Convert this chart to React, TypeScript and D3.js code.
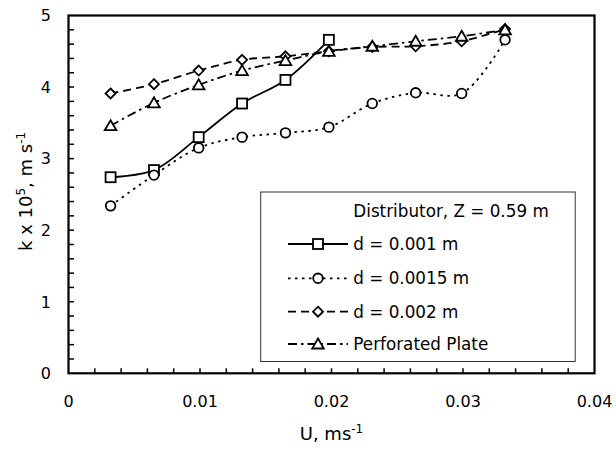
import React from "react";
import * as d3 from "d3";

const U = [0.0032, 0.0065, 0.0099, 0.0132, 0.0165, 0.0198, 0.0231, 0.0264, 0.0299, 0.0332];
const d001 = [2.74, 2.84, 3.30, 3.77, 4.10, 4.66];
const d0015 = [2.34, 2.77, 3.15, 3.30, 3.36, 3.44, 3.77, 3.92, 3.91, 4.66];
const d002 = [3.91, 4.04, 4.23, 4.38, 4.43, 4.50, 4.56, 4.57, 4.64, 4.81];
const perforated = [3.46, 3.78, 4.03, 4.23, 4.37, 4.50, 4.57, 4.64, 4.71, 4.80];

const seriesNames = ["d = 0.001 m", "d = 0.0015 m", "d = 0.002 m", "Perforated Plate"];
const legendTitle = "Distributor, Z = 0.59 m";
const xTicks = [0, 0.01, 0.02, 0.03, 0.04];
const xTickLabels = ["0", "0.01", "0.02", "0.03", "0.04"];
const yTicks = [0, 1, 2, 3, 4, 5];

const W = 616, H = 452;
const L = 68.5, R = 594.5, T = 15.5, B = 373.3;
const FONT = "'DejaVu Sans', sans-serif";

type Mk = "square" | "circle" | "diamond" | "triangle";

function Marker({ x, y, kind }: { x: number; y: number; kind: Mk }) {
  const sw = 1.8;
  if (kind === "square") return <rect x={x - 5} y={y - 5} width={10} height={10} fill="white" stroke="black" strokeWidth={sw} />;
  if (kind === "circle") return <circle cx={x} cy={y} r={4.8} fill="white" stroke="black" strokeWidth={sw} />;
  if (kind === "diamond") return <path d={`M${x},${y - 5}L${x + 5},${y}L${x},${y + 5}L${x - 5},${y}Z`} fill="white" stroke="black" strokeWidth={sw} />;
  return <path d={`M${x},${y - 5.5}L${x + 5.8},${y + 4.5}L${x - 5.8},${y + 4.5}Z`} fill="white" stroke="black" strokeWidth={sw} />;
}

export default function App() {
  const x = d3.scaleLinear().domain([0, 0.04]).range([L, R]);
  const y = d3.scaleLinear().domain([0, 5]).range([B, T]);
  const line = d3
    .line<[number, number]>()
    .x((d) => x(d[0]))
    .y((d) => y(d[1]))
    .curve(d3.curveCatmullRom.alpha(0.5));

  const series: { vals: number[]; kind: Mk; dash: string }[] = [
    { vals: d001, kind: "square", dash: "" },
    { vals: d0015, kind: "circle", dash: "2.5 4.5" },
    { vals: d002, kind: "diamond", dash: "8 5" },
    { vals: perforated, kind: "triangle", dash: "9 4 2.5 4" },
  ];

  const xMinor = d3.range(0.002, 0.0399, 0.002);
  const yMinor = d3.range(0.2, 4.99, 0.2);

  const legRows = [244, 278.3, 311.7, 344];

  return (
    <svg width={W} height={H} style={{ position: "absolute", left: 0, top: 0, background: "white" }} fontFamily={FONT}>
      <rect x={0} y={0} width={W} height={H} fill="white" />
      {/* minor ticks */}
      {xMinor.map((t, i) => (
        <line key={"xt" + i} x1={x(t)} x2={x(t)} y1={B} y2={B - 5} stroke="black" strokeWidth={1.5} />
      ))}
      {yMinor.map((t, i) => (
        <line key={"yt" + i} x1={L} x2={L + 5.5} y1={y(t)} y2={y(t)} stroke="black" strokeWidth={1.5} />
      ))}
      {/* series */}
      {series.map((s, si) => {
        const pts: [number, number][] = s.vals.map((v, i) => [U[i], v]);
        return (
          <g key={"s" + si}>
            <path d={line(pts) || ""} fill="none" stroke="black" strokeWidth={1.8} strokeDasharray={s.dash || undefined} />
          </g>
        );
      })}
      {series.map((s, si) => (
        <g key={"m" + si}>
          {s.vals.map((v, i) => (
            <Marker key={i} x={x(U[i])} y={y(v)} kind={s.kind} />
          ))}
        </g>
      ))}
      {/* frame */}
      <rect x={L} y={T} width={R - L} height={B - T} fill="none" stroke="black" strokeWidth={2.2} />
      {/* tick labels */}
      {xTicks.map((t, i) => (
        <text key={"xl" + i} x={x(t)} y={407} textAnchor="middle" fontSize={16} fill="black">
          {xTickLabels[i]}
        </text>
      ))}
      {yTicks.map((t, i) => (
        <text key={"yl" + i} x={51} y={y(t)} dy="0.36em" textAnchor="end" fontSize={16} fill="black">
          {t}
        </text>
      ))}
      {/* axis titles */}
      <text x={(L + R) / 2} y={440} textAnchor="middle" fontSize={18} fill="black">
        U, ms<tspan dy={-7} fontSize={12}>-1</tspan>
      </text>
      <text transform={`translate(32,${(T + B) / 2 - 3}) rotate(-90)`} textAnchor="middle" fontSize={18} fill="black">
        k x 10<tspan dy={-7} fontSize={12}>5</tspan>
        <tspan dy={7}>, m s</tspan>
        <tspan dy={-7} fontSize={12}>-1</tspan>
      </text>
      {/* legend */}
      <rect x={260.7} y={192} width={314.5} height={169.5} fill="white" stroke="#333" strokeWidth={1} />
      <text x={353.3} y={216.5} fontSize={16.8} fill="black">
        {legendTitle}
      </text>
      {series.map((s, i) => (
        <g key={"lg" + i}>
          <line x1={288} x2={348} y1={legRows[i]} y2={legRows[i]} stroke="black" strokeWidth={1.8} strokeDasharray={s.dash || undefined} />
          <Marker x={318} y={legRows[i]} kind={s.kind} />
          <text x={353.3} y={legRows[i]} dy="0.36em" fontSize={16.8} fill="black">
            {seriesNames[i]}
          </text>
        </g>
      ))}
    </svg>
  );
}
